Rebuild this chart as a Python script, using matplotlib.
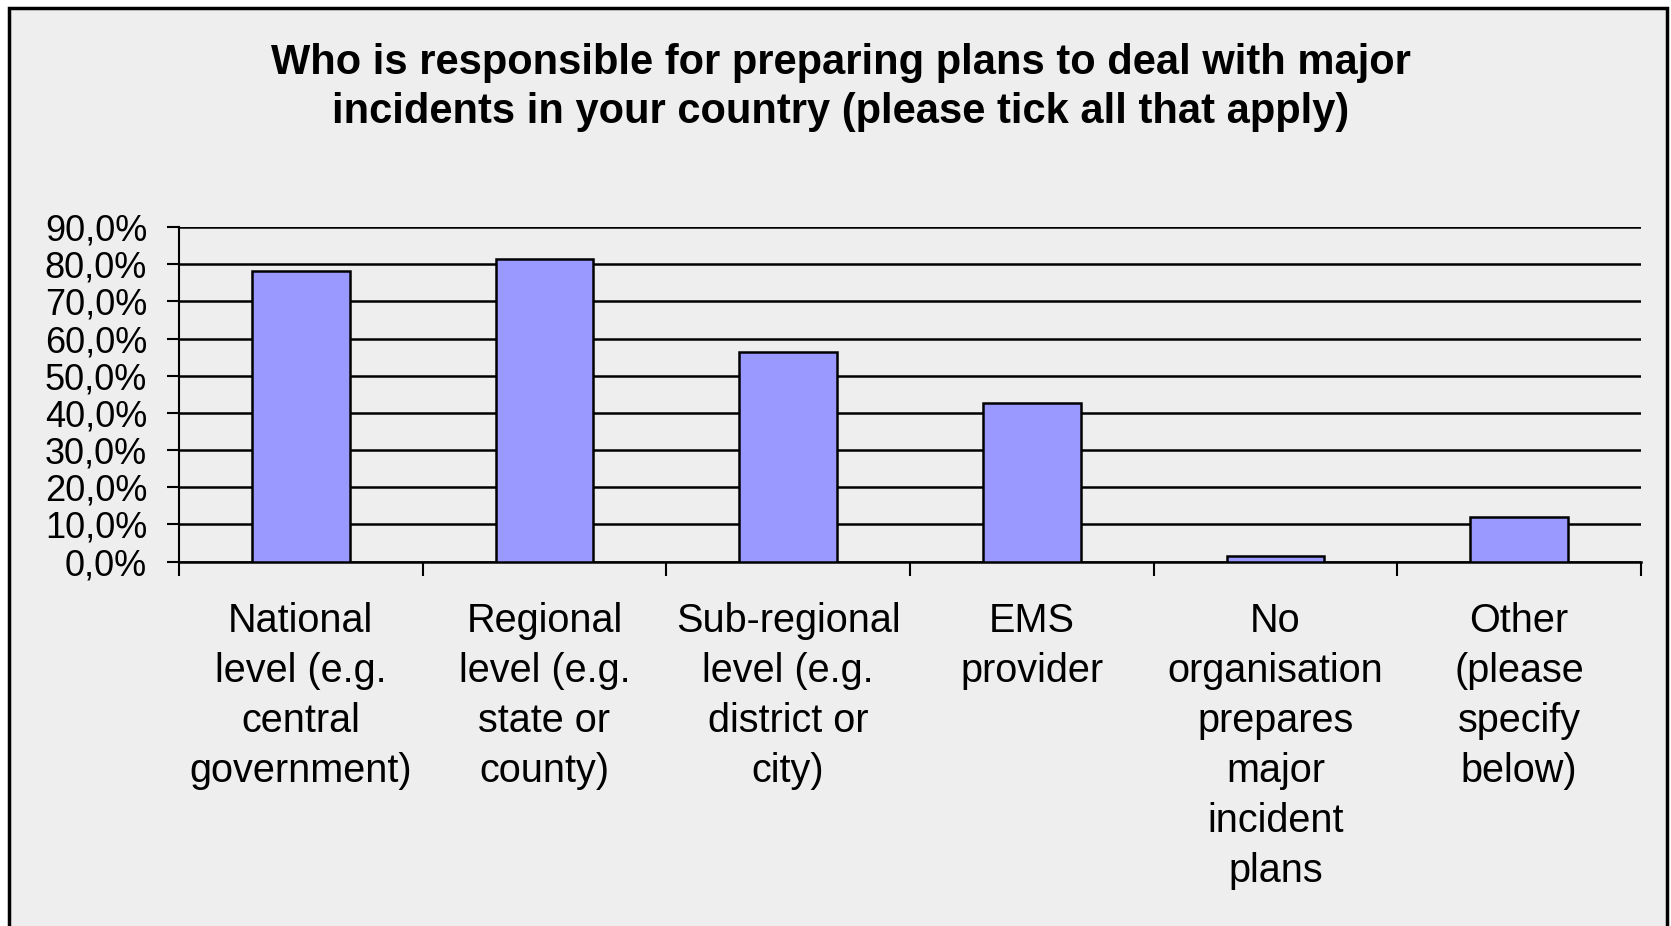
import numpy as np
import matplotlib
matplotlib.use("Agg")
from matplotlib import pyplot as plt
from matplotlib.patches import Rectangle
from matplotlib.ticker import FuncFormatter

# survey answers (% of respondents)
categories = [
    "National\nlevel (e.g.\ncentral\ngovernment)",
    "Regional\nlevel (e.g.\nstate or\ncounty)",
    "Sub-regional\nlevel (e.g.\ndistrict or\ncity)",
    "EMS\nprovider",
    "No\norganisation\nprepares\nmajor\nincident\nplans",
    "Other\n(please\nspecify\nbelow)",
]
values = [78.1, 81.3, 56.3, 42.6, 1.6, 11.9]
yticks = [0, 10, 20, 30, 40, 50, 60, 70, 80, 90]
title = ("Who is responsible for preparing plans to deal with major\n"
         "incidents in your country (please tick all that apply)")

plt.rcParams['font.family'] = ['Liberation Sans', 'DejaVu Sans']

W, H = 1671, 926
fig = plt.figure(figsize=(W / 100, H / 100), dpi=100)
fig.patch.set_facecolor('white')

# grey chart area with black frame
frame = Rectangle((8.5 / W, -0.05), (1667 - 8.5) / W, 1.05 - 8.5 / H,
                  transform=fig.transFigure, facecolor='#eeeeee',
                  edgecolor='black', linewidth=2.5, zorder=-5)
fig.patches.append(frame)

ax = fig.add_axes([179 / W, 1 - 561.6 / H, (1641 - 179) / W, (561.6 - 227) / H])
ax.set_zorder(2)
ax.set_facecolor('none')

x = np.arange(len(categories))
ax.bar(x, values, width=0.4, color='#9999ff', edgecolor='black', linewidth=1.8, zorder=3)

ax.set_xlim(-0.5, len(categories) - 0.5)
ax.set_ylim(0, 90)
ax.set_yticks(yticks)
ax.yaxis.set_major_formatter(FuncFormatter(lambda v, p: f"{v:.1f}%".replace('.', ',')))
ax.grid(axis='y', color='black', linewidth=1.8, zorder=1)
ax.set_axisbelow(True)

ax.set_xticks(np.arange(len(categories) + 1) - 0.5)
ax.set_xticklabels([])
ax.set_xticks(x, minor=True)
ax.set_xticklabels(categories, minor=True, fontsize=28.5, linespacing=1.4)
ax.tick_params(axis='x', which='major', length=10, width=1.5, direction='out')
ax.tick_params(axis='x', which='minor', length=0, pad=29)
ax.tick_params(axis='y', length=9, width=1.5, labelsize=26, pad=14)

for s in ['top', 'right']:
    ax.spines[s].set_visible(False)
ax.spines['left'].set_linewidth(1.5)
ax.spines['bottom'].set_linewidth(1.8)

lines = title.split('\n')
fig.text(0.503, 1 - 63 / H, lines[0], ha='center', va='center',
         fontsize=30, fontweight='bold')
fig.text(0.503, 1 - 112 / H, lines[1], ha='center', va='center',
         fontsize=30, fontweight='bold')

fig.savefig('out.png', dpi=100)
